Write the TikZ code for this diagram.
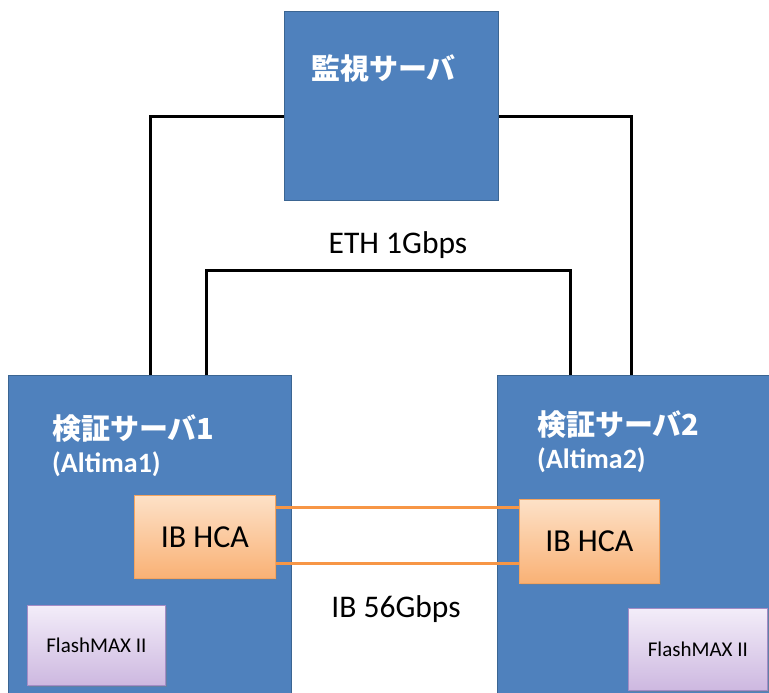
\documentclass[tikz,border=0pt]{standalone}
\usepackage{fontspec}
\setmainfont{Carlito}
\newfontfamily\jp{Noto Sans CJK JP}
\usetikzlibrary{shadows}
\definecolor{srvblue}{HTML}{4F81BD}
\definecolor{srvedge}{HTML}{3B6592}
\definecolor{hcaedge}{HTML}{F4A460}
\definecolor{hcatop}{HTML}{FDE1C7}
\definecolor{hcabot}{HTML}{F9B175}
\definecolor{ibline}{HTML}{F79646}
\definecolor{fmtop}{HTML}{F3EDF9}
\definecolor{fmbot}{HTML}{CDB8E0}
\definecolor{fmedge}{HTML}{A48CC6}
\begin{document}
\begin{tikzpicture}[x=1pt,y=-1pt,
  box/.style={inner sep=0pt, anchor=north west},
  server/.style={box, draw=srvedge, fill=srvblue, line width=1.3pt},
  hca/.style={box, draw=hcaedge, line width=0.8pt, top color=hcatop, bottom color=hcabot,
    drop shadow={opacity=0.4, shadow xshift=2pt, shadow yshift=-2pt},
    font=\fontsize{32}{36}\selectfont},
  flash/.style={box, draw=fmedge, line width=0.8pt, top color=fmtop, bottom color=fmbot,
    drop shadow={opacity=0.4, shadow xshift=2pt, shadow yshift=-2pt},
    font=\fontsize{21}{24}\selectfont},
  eth/.style={draw=black, line width=3pt},
  ib/.style={draw=ibline, line width=3.6pt},
  title/.style={inner sep=0pt, anchor=west, text=white, font=\jp\bfseries\fontsize{29}{32}\selectfont},
  sub/.style={inner sep=0pt, anchor=west, text=white, font=\bfseries\fontsize{28}{32}\selectfont},
  rate/.style={inner sep=0pt, font=\fontsize{31.5}{36}\selectfont}]
\useasboundingbox[fill=white] (0,0) rectangle (769,693);

% servers
\node[server, minimum width=214pt, minimum height=189pt] (mon) at (284,11) {};
\node[server, minimum width=283pt, minimum height=340pt] (srv1) at (8,375) {};
\node[server, minimum width=290pt, minimum height=340pt] (srv2) at (497,375) {};

% Ethernet links to the monitoring server
\draw[eth] ([yshift=-10pt]mon.west) -| (srv1.north);
\draw[eth] ([yshift=-10pt]mon.east) -| ([xshift=-11pt]srv2.north);
\draw[eth] ([xshift=56pt]srv1.north) |- ++(0,-105) coordinate (ethmid) -| ([xshift=-72pt]srv2.north);

% adapters and flash cards
\node[hca, minimum width=141pt, minimum height=83pt] (hca1) at (134,495) {IB HCA};
\node[hca, minimum width=140pt, minimum height=84pt] (hca2) at (519,499) {IB HCA};
\node[flash, minimum width=138pt, minimum height=80pt] (fm1) at (27,605) {FlashMAX II};
\node[flash, minimum width=139pt, minimum height=82pt] (fm2) at (628,608) {FlashMAX II};

% InfiniBand links
\draw[ib] ([yshift=29.5pt]hca1.east) coordinate (ibA) -- (hca2.west |- ibA);
\draw[ib] ([yshift=-26.5pt]hca1.east) coordinate (ibB) -- (hca2.west |- ibB);

% labels
\node[title] (monlbl) at (311,68) {監視サーバ};
\node[title] (s1lbl) at (52,429) {検証サーバ1};
\node[sub] (s1sub) at (52,464) {(Altima1)};
\node[title] (s2lbl) at (537,425) {検証サーバ2};
\node[sub] (s2sub) at (537,460) {(Altima2)};
\node[rate] (ethlbl) at (398,245) {ETH 1Gbps};
\node[rate] (iblbl) at (396,609) {IB 56Gbps};
\end{tikzpicture}
\end{document}
